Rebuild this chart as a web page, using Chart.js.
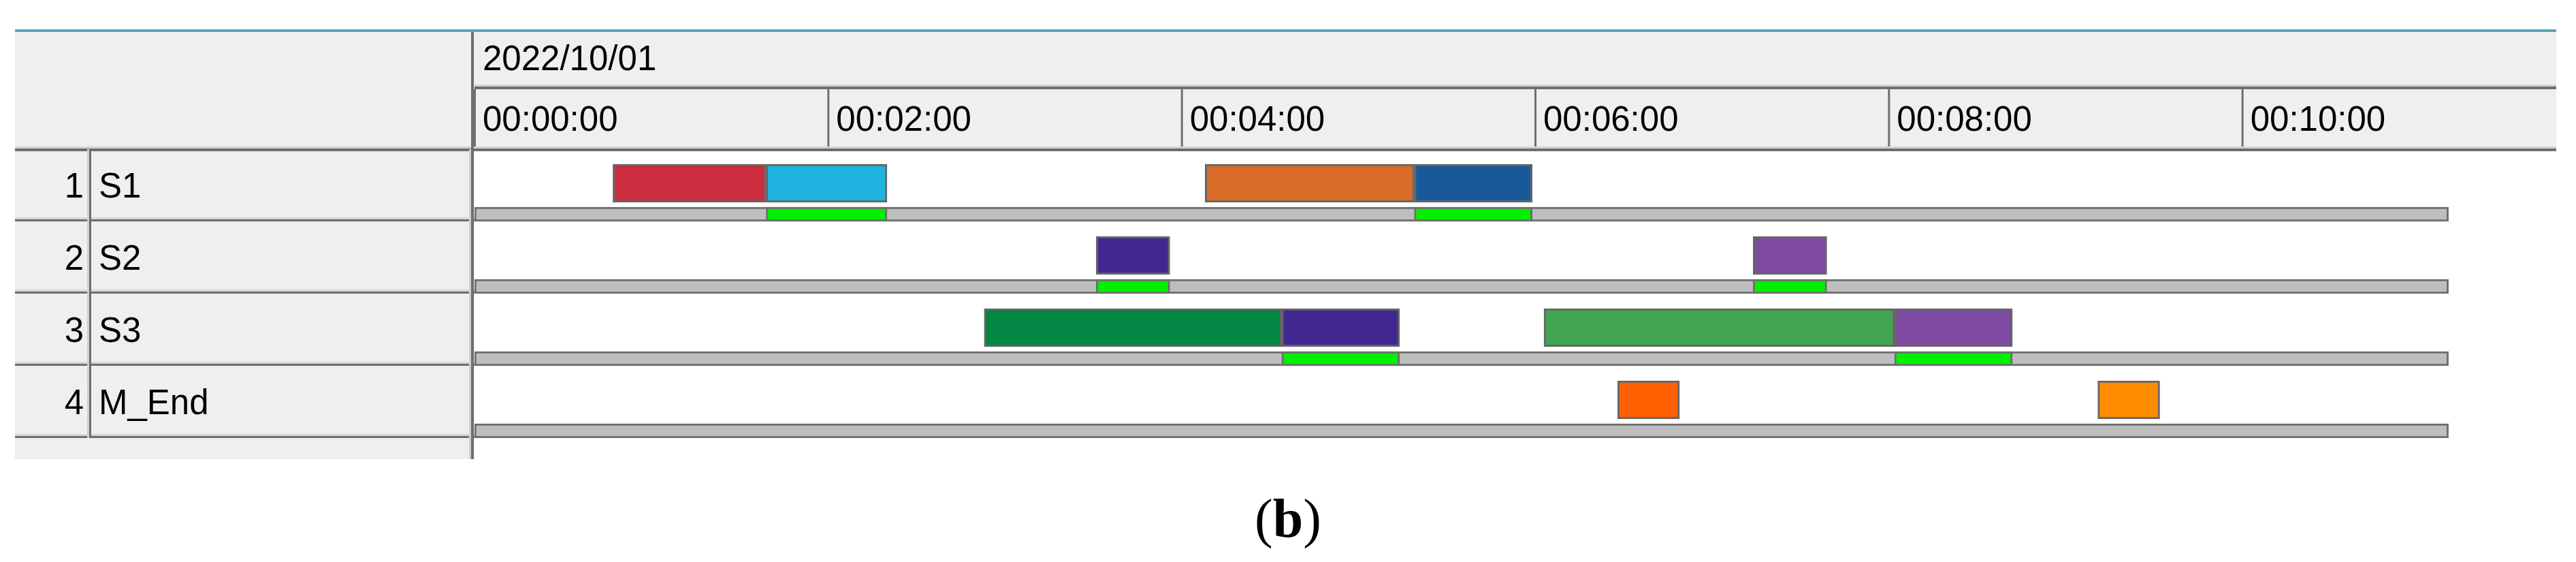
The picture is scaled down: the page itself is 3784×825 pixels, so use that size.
<!DOCTYPE html>
<html>
<head>
<meta charset="utf-8">
<script src="https://cdn.jsdelivr.net/npm/chart.js@4.4.1/dist/chart.umd.min.js"></script>
<style>
  html, body { margin: 0; padding: 0; background: #fff; }
  canvas { display: block; }
</style>
</head>
<body>
<canvas id="gantt" width="3784" height="825"></canvas>
<script>
// Data (times in seconds from 00:00:00)
const dateLabel = '2022/10/01';
const rowNumbers = ['1', '2', '3', '4'];
const rowNames = ['S1', 'S2', 'S3', 'M_End'];

const tickSeconds = [0, 120, 240, 360, 480, 600];
const tickLabels = ['00:00:00', '00:02:00', '00:04:00', '00:06:00', '00:08:00', '00:10:00'];

// operations (coloured blocks)
const taskRow   = [0, 0, 0, 0, 1, 1, 2, 2, 2, 2, 3, 3];
const taskStart = [47, 99, 248, 319, 211, 434, 173, 274, 363, 482, 388, 551];
const taskEnd   = [99, 140, 319, 359, 236, 459, 274, 314, 482, 522, 409, 572];
const taskColors = ['#CB2C3E', '#1EB4DF', '#D76B27', '#175999', '#412891', '#7F4AA1',
                    '#018644', '#412891', '#41A552', '#7F4AA1', '#FF6000', '#FF8C00'];

// green marks on the grey strip under each row
const busyRow   = [0, 0, 1, 1, 2, 2];
const busyStart = [99, 319, 211, 434, 274, 482];
const busyEnd   = [140, 359, 236, 459, 314, 522];

const horizonEnd = 670;

const BAR_POS = 0.472;   // bar centre inside a row (row units)
const STRIP_POS = 0.901; // strip centre inside a row

const taskData = taskRow.map((r, i) => ({ x: [taskStart[i], taskEnd[i]], y: r + BAR_POS }));
const stripData = rowNames.map((n, r) => ({ x: [0, horizonEnd], y: r + STRIP_POS }));
const busyData = busyRow.map((r, i) => ({ x: [busyStart[i], busyEnd[i]], y: r + STRIP_POS }));

const FONT = '"Liberation Sans", Arial, sans-serif';
const SERIF = '"Liberation Serif", "Times New Roman", serif';

function box(ctx, x, y, w, h, color) {
    ctx.fillStyle = color;
    ctx.fillRect(x, y, w, h);
}

// draws the grid frame, header and the left table of the gantt view
const ganttFrame = {
    id: 'ganttFrame',
    beforeDraw(chart) {
        const { ctx, chartArea: a } = chart;
        const x = chart.scales.x;
        const y = chart.scales.y;
        const L = 22;
        const R = a.right;
        const rowsBottom = y.getPixelForValue(4);
        const panelBottom = rowsBottom + 31;

        ctx.save();
        box(ctx, 0, 0, chart.width, chart.height, '#ffffff');

        // top teal line + header background
        box(ctx, L, 43, R - L, 4, '#58A4BE');
        box(ctx, L, 47, R - L, a.top - 47, '#EFEFEF');
        // left table background
        box(ctx, L, a.top, a.left - L, panelBottom - a.top, '#EFEFEF');

        // line under the date row (time side only)
        box(ctx, a.left, 124, R - a.left, 3, '#D4D4D4');
        box(ctx, a.left, 127, R - a.left, 4, '#6E6E6E');

        // date label
        ctx.fillStyle = '#000';
        ctx.font = '51px ' + FONT;
        ctx.textAlign = 'left';
        ctx.textBaseline = 'alphabetic';
        ctx.fillText(dateLabel, a.left + 12, 103);

        // time ticks
        tickSeconds.forEach((s, i) => {
            const px = x.getPixelForValue(s);
            box(ctx, px - 1, 131, 3, a.top - 131, '#6E6E6E');
            ctx.fillStyle = '#000';
            ctx.fillText(tickLabels[i], px + 12, 192);
        });

        // line under the header
        box(ctx, L, a.top - 4, R - L, 3, '#D4D4D4');
        box(ctx, L, a.top - 1, R - L, 4, '#6E6E6E');

        // left table rows
        for (let k = 0; k < rowNames.length; k++) {
            const y0 = y.getPixelForValue(k);
            const y1 = y.getPixelForValue(k + 1);
            box(ctx, L, y1 - 6, a.left - L, 3, '#D8D8D8');
            box(ctx, L, y1 - 3, a.left - L, 3, '#6E6E6E');
            const mid = (y0 + y1) / 2 + 18;
            ctx.fillStyle = '#000';
            ctx.textAlign = 'right';
            ctx.fillText(rowNumbers[k], 123, mid);
            ctx.textAlign = 'left';
            ctx.fillText(rowNames[k], 145, mid);
        }
        // divider between number and name
        box(ctx, 128, a.top, 3, rowsBottom - a.top, '#D0D0D0');
        box(ctx, 131, a.top, 3, rowsBottom - a.top, '#6E6E6E');
        // divider between table and time area
        box(ctx, a.left - 8, a.top, 3, panelBottom - a.top, '#D0D0D0');
        box(ctx, a.left - 5, 47, 4, panelBottom - 47, '#6E6E6E');

        // caption "(b)" with a bold b
        const cx = 1892, cy = 788;
        ctx.font = '80px ' + SERIF;
        const wOpen = ctx.measureText('(').width;
        const wClose = ctx.measureText(')').width;
        ctx.font = 'bold 80px ' + SERIF;
        const wB = ctx.measureText('b').width;
        const sx = cx - (wOpen + wB + wClose) / 2;
        ctx.fillStyle = '#000';
        ctx.textAlign = 'left';
        ctx.font = '80px ' + SERIF;
        ctx.fillText('(', sx, cy);
        ctx.fillText(')', sx + wOpen + wB, cy);
        ctx.font = 'bold 80px ' + SERIF;
        ctx.fillText('b', sx + wOpen, cy);
        ctx.restore();
    }
};

const ctx = document.getElementById('gantt').getContext('2d');
new Chart(ctx, {
    type: 'bar',
    data: {
        datasets: [{
            label: 'busy',
            data: busyData,
            backgroundColor: '#00F000',
            borderColor: '#6E6E6E',
            borderWidth: 3,
            borderSkipped: false,
            barThickness: 21,
            stack: 'g',
            order: 0
        }, {
            label: 'strip',
            data: stripData,
            backgroundColor: '#BEBEBE',
            borderColor: '#6E6E6E',
            borderWidth: 3,
            borderSkipped: false,
            barThickness: 21,
            stack: 'g',
            order: 1
        }, {
            label: 'tasks',
            data: taskData,
            backgroundColor: taskColors,
            borderColor: '#666666',
            borderWidth: 3,
            borderSkipped: false,
            barThickness: 56,
            stack: 'g',
            order: 2
        }]
    },
    options: {
        responsive: false,
        animation: false,
        events: [],
        indexAxis: 'y',
        layout: { padding: { left: 697, right: 29, top: 219, bottom: 182 } },
        plugins: {
            legend: { display: false },
            tooltip: { enabled: false }
        },
        scales: {
            x: { type: 'linear', min: 0, max: 706.6, stacked: false, display: false },
            y: { type: 'linear', min: 0, max: 4, reverse: true, offset: false, display: false }
        }
    },
    plugins: [ganttFrame]
});
</script>
</body>
</html>
